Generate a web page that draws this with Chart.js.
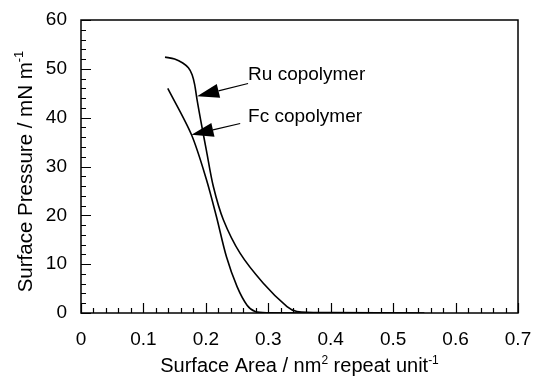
<!DOCTYPE html>
<html><head><meta charset="utf-8">
<script src="https://cdn.jsdelivr.net/npm/chart.js@4"></script>
<style>html,body{margin:0;padding:0;background:#fff}#wrap{width:533px;height:376px}</style>
</head><body><div id="wrap"><canvas id="c" width="533" height="376"></canvas></div>
<script>
const ruX = [0.1346,0.1500,0.1630,0.1720,0.1780,0.1820,0.1860,0.192,0.201,0.212,0.228,0.255,0.292,0.330,0.346,0.40,0.55];
const ruY = [52.4,52.0,51.2,50.2,48.8,46.8,43.6,39.3,33.2,25.9,19.1,12.2,6.1,1.3,0.3,0.1,0.0];
const fcX = [0.139,0.177,0.201,0.217,0.233,0.250,0.266,0.279,0.30,0.40];
const fcY = [46.0,36.5,27.3,19.7,11.5,5.4,1.6,0.3,0.05,0.0];
const xTicks = [0,0.1,0.2,0.3,0.4,0.5,0.6,0.7];
const yTicks = [0,10,20,30,40,50,60];
const labels = [
  {text:'Ru copolymer', x:0.2676, y:48.7, tailX:0.2676, tailY:47.0, tipX:0.186, tipY:44.4},
  {text:'Fc copolymer', x:0.2676, y:40.1, tailX:0.255, tailY:38.8, tipX:0.177, tipY:36.5}
];
const FONT = '"Liberation Sans", Arial, Helvetica, sans-serif';

function pts(xs, ys){ return xs.map((x,i)=>({x:x, y:ys[i]})); }

const decor = {
  id:'decor',
  afterDraw(chart){
    const ctx = chart.ctx, a = chart.chartArea;
    const xs = chart.scales.x, ys = chart.scales.y;
    ctx.save();
    ctx.strokeStyle = '#000'; ctx.lineWidth = 1.5;
    ctx.strokeRect(a.left, a.top, a.right-a.left, a.bottom-a.top);
    ctx.lineWidth = 1.2;
    ctx.beginPath();
    for (let i=0;i<=35;i++){
      const v = i*0.02; const px = Math.round(xs.getPixelForValue(v))+0.5;
      const len = (i%5===0)?10:5;
      ctx.moveTo(px, a.bottom); ctx.lineTo(px, a.bottom-len);
    }
    for (let i=0;i<=30;i++){
      const v = i*2; const py = Math.round(ys.getPixelForValue(v))+0.5;
      const len = (i%5===0)?10:5;
      ctx.moveTo(a.left, py); ctx.lineTo(a.left+len, py);
    }
    ctx.stroke();
    ctx.fillStyle = '#000';
    ctx.font = '19px ' + FONT;
    ctx.textBaseline = 'middle'; ctx.textAlign = 'left';
    labels.forEach(l=>{
      ctx.fillText(l.text, xs.getPixelForValue(l.x), ys.getPixelForValue(l.y));
      const tx = xs.getPixelForValue(l.tailX), ty = ys.getPixelForValue(l.tailY);
      const hx = xs.getPixelForValue(l.tipX), hy = ys.getPixelForValue(l.tipY);
      const ang = Math.atan2(ty-hy, tx-hx);
      const L = 22, W = 7;
      const bx = hx + L*Math.cos(ang), by = hy + L*Math.sin(ang);
      ctx.lineWidth = 1.2;
      ctx.beginPath(); ctx.moveTo(tx,ty); ctx.lineTo(bx,by); ctx.stroke();
      ctx.beginPath();
      ctx.moveTo(hx,hy);
      ctx.lineTo(bx - W*Math.sin(ang), by + W*Math.cos(ang));
      ctx.lineTo(bx + W*Math.sin(ang), by - W*Math.cos(ang));
      ctx.closePath(); ctx.fill();
    });
    function drawSup(parts, size){
      let total = 0;
      parts.forEach(p=>{ ctx.font = size+'px '+FONT; total += ctx.measureText(p[0]).width;
        if (p[1]) { ctx.font = Math.round(size*0.62)+'px '+FONT; total += ctx.measureText(p[1]).width; }});
      let x = -total/2;
      ctx.textAlign = 'left'; ctx.textBaseline = 'alphabetic';
      parts.forEach(p=>{ ctx.font = size+'px '+FONT; ctx.fillText(p[0], x, 0); x += ctx.measureText(p[0]).width;
        if (p[1]) { ctx.font = Math.round(size*0.62)+'px '+FONT; ctx.fillText(p[1], x, -size*0.42); x += ctx.measureText(p[1]).width; }});
    }
    ctx.save();
    ctx.translate((a.left+a.right)/2, 372);
    drawSup([['Surface Area / nm','2'],[' repeat unit','-1']], 20);
    ctx.restore();
    ctx.save();
    ctx.translate(32, (a.top+a.bottom)/2+5);
    ctx.rotate(-Math.PI/2);
    drawSup([['Surface Pressure / mN m','-1']], 20.5);
    ctx.restore();
    ctx.restore();
  }
};

new Chart(document.getElementById('c'), {
  type:'line',
  data:{ datasets:[
    {label:'Ru copolymer', data:pts(ruX,ruY), borderColor:'#000', borderWidth:1.6, pointRadius:0, tension:0.3, fill:false},
    {label:'Fc copolymer', data:pts(fcX,fcY), borderColor:'#000', borderWidth:1.6, pointRadius:0, tension:0.3, fill:false}
  ]},
  options:{
    responsive:false, animation:false, devicePixelRatio:1,
    layout:{padding:{left:0,right:15,top:20,bottom:0}},
    plugins:{legend:{display:false}, tooltip:{enabled:false}},
    scales:{
      x:{type:'linear', min:0, max:0.7,
        afterBuildTicks(s){ s.ticks = xTicks.map(v=>({value:v})); },
        afterFit(s){ s.height = 63; s.paddingLeft = 0; s.paddingRight = 0; },
        grid:{display:false, drawTicks:false}, border:{display:false},
        ticks:{padding:15, color:'#000', font:{family:FONT,size:19}, maxRotation:0,
          callback:(v)=> v===0 ? '0' : String(Math.round(v*10)/10)}},
      y:{type:'linear', min:0, max:60,
        afterBuildTicks(s){ s.ticks = yTicks.map(v=>({value:v})); },
        afterFit(s){ s.width = 81; s.paddingTop = 0; s.paddingBottom = 0; },
        grid:{display:false, drawTicks:false}, border:{display:false},
        ticks:{padding:14, color:'#000', font:{family:FONT,size:19}}}
    }
  },
  plugins:[decor]
});
</script></body></html>
